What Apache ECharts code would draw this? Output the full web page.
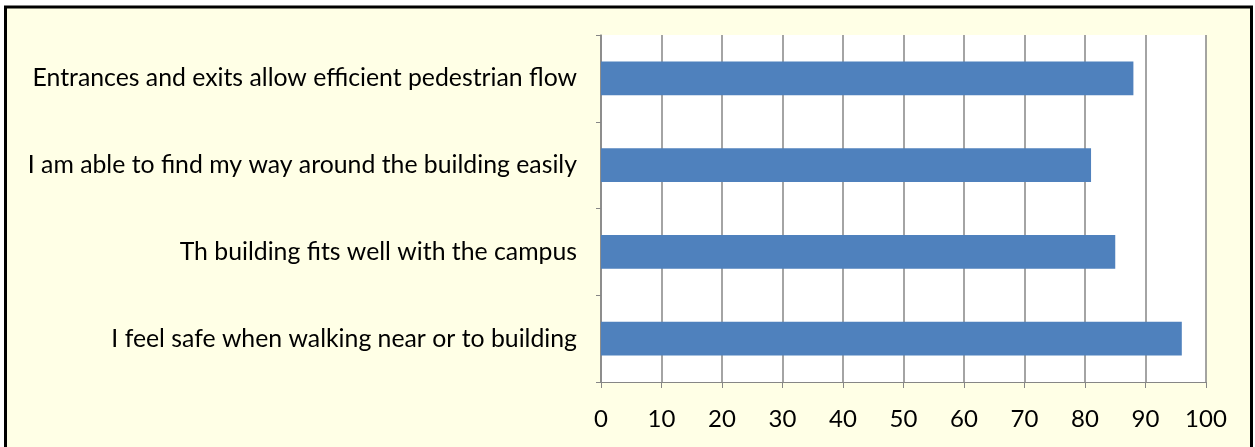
<!DOCTYPE html>
<html><head><meta charset="utf-8">
<script src="https://cdn.jsdelivr.net/npm/echarts@6/dist/echarts.min.js"></script>
<style>html,body{margin:0;padding:0;background:#fff}#c{width:1255px;height:447px}</style>
</head><body><div id="c"></div>
<script>
const categories = [
  "I feel safe when walking near or to building",
  "Th building fits well with the campus",
  "I am able to find my way around the building easily",
  "Entrances and exits allow efficient pedestrian flow"
];
const values = [96, 85, 81, 88];
const xTicks = [0, 10, 20, 30, 40, 50, 60, 70, 80, 90, 100];

const chart = echarts.init(document.getElementById('c'), null, {renderer: 'canvas'});
const font = 'Lato, "Open Sans", sans-serif';
chart.setOption({
  animation: false,
  backgroundColor: '#ffffff',
  graphic: [{
    type: 'rect', z: -10, silent: true,
    shape: {x: 5.5, y: 7, width: 1246, height: 445},
    style: {fill: '#FFFFE6', stroke: '#000', lineWidth: 3}
  }, {
    type: 'rect', z: -5, silent: true,
    shape: {x: 601, y: 35, width: 605, height: 347},
    style: {fill: '#ffffff'}
  }],
  grid: {left: 601, right: 49, top: 35, bottom: 65, containLabel: false},
  xAxis: {
    type: 'value', min: xTicks[0], max: xTicks[xTicks.length - 1], interval: 10,
    axisLine: {show: true, lineStyle: {color: '#868686', width: 1}},
    axisTick: {show: true, length: 6, lineStyle: {color: '#868686'}},
    axisLabel: {color: '#000', fontSize: 24, fontFamily: font, margin: 25},
    splitLine: {show: true, lineStyle: {color: '#868686', width: 1.5}}
  },
  yAxis: {
    type: 'category', data: categories,
    axisLine: {show: true, lineStyle: {color: '#868686', width: 1.5}},
    axisTick: {show: true, length: 5, lineStyle: {color: '#868686'}},
    axisLabel: {color: '#000', fontSize: 24.8, fontFamily: font, margin: 24},
    splitLine: {show: false}
  },
  series: [{
    type: 'bar', data: values, barCategoryGap: '61%',
    itemStyle: {color: '#4F81BD'}
  }]
});
</script></body></html>
